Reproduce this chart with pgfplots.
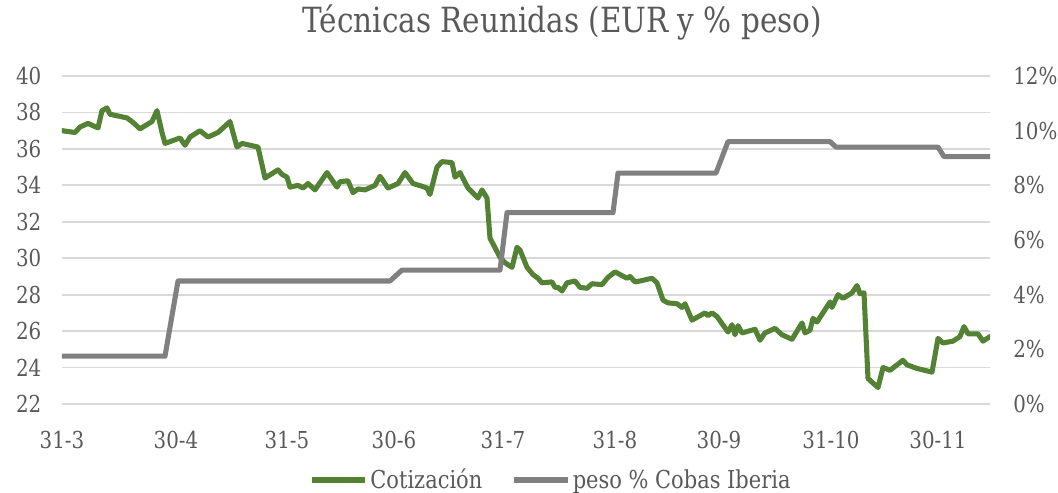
\documentclass[border=0pt]{standalone}
\usepackage{pgfplots}
\pgfplotsset{compat=1.18}
\usepackage{pgfplotstable}
\usepackage{fontspec}
\setmainfont{DejaVu Serif}[FakeStretch=0.85]
\definecolor{cgreen}{HTML}{548235}
\definecolor{cgray}{HTML}{808080}
\definecolor{cgrid}{HTML}{D9D9D9}
\definecolor{ctext}{HTML}{595959}

\pgfplotstableread{
x y
0 37.0
13 36.9
18 37.2
26 37.4
36 37.15
40 38.1
45 38.25
48 37.9
65 37.7
70 37.5
78 37.1
90 37.5
95 38.1
100 36.9
103 36.3
118 36.6
123 36.2
128 36.65
138 37.0
146 36.65
156 36.9
168 37.5
175 36.1
180 36.3
196 36.1
203 34.4
216 34.85
220 34.6
225 34.45
228 33.9
236 34.0
241 33.85
246 34.1
253 33.75
265 34.7
275 33.9
278 34.2
286 34.25
291 33.6
296 33.8
303 33.75
313 34.0
318 34.5
326 33.85
336 34.1
343 34.7
351 34.1
360 33.95
365 33.85
368 33.5
375 35.0
380 35.3
390 35.25
393 34.45
398 34.7
406 33.85
416 33.3
420 33.75
425 33.3
428 31.1
438 30.05
443 29.75
450 29.5
455 30.6
458 30.45
465 29.5
471 29.1
476 28.9
480 28.65
490 28.7
493 28.4
496 28.4
500 28.2
505 28.65
513 28.75
518 28.4
525 28.35
530 28.6
540 28.55
546 28.95
553 29.25
565 28.9
568 29.0
573 28.7
578 28.75
590 28.9
595 28.65
601 27.7
606 27.55
615 27.5
620 27.3
623 27.5
630 26.6
643 27.0
646 26.85
650 27.0
655 26.8
666 25.95
670 26.35
673 25.8
676 26.3
680 25.9
693 26.1
698 25.5
703 25.9
713 26.15
720 25.8
730 25.55
740 26.45
743 25.9
748 26.05
751 26.7
755 26.5
768 27.6
770 27.3
776 28.0
781 27.8
790 28.1
795 28.5
798 28.05
802 28.1
806 23.4
816 22.9
821 24.0
828 23.85
841 24.4
845 24.15
855 23.95
870 23.75
876 25.6
881 25.35
891 25.45
898 25.7
902 26.25
906 25.85
916 25.85
921 25.45
928 25.7
}\cotizacion

\pgfplotstableread{
x y
0 1.75
103 1.75
116 4.5
328 4.5
340 4.9
438 4.9
445 7.0
551 7.0
556 8.45
654 8.45
666 9.6
768 9.6
774 9.4
876 9.4
882 9.05
928 9.05
}\peso

\begin{document}
\begin{tikzpicture}
\useasboundingbox (-46.5pt,-66.75pt) rectangle (747pt,303pt);
\pgfplotsset{
  every axis/.append style={
    scale only axis, width=696pt, height=246pt,
    xmin=0, xmax=928,
    axis line style={draw=none},
    major tick length=0pt,
    ticklabel style={font=\fontsize{17.5}{20}\selectfont, text=ctext},
    /pgf/number format/assume math mode=true,
  }
}
\begin{axis}[
  ymin=22, ymax=40, ytick={22,24,...,40},
  ymajorgrids, grid style={cgrid, line width=1.3pt},
  xtick={0,114,225,332,441,553,657,769,876},
  xticklabels={31-3,30-4,31-5,30-6,31-7,31-8,30-9,31-10,30-11},
  xticklabel shift=17pt,
  yticklabel shift=12pt,
  title={Técnicas Reunidas (EUR y \% peso)},
  title style={at={(0.539,1)}, anchor=center, yshift=34pt,
    font=\fontsize{26}{30}\selectfont, text=ctext},
]
\addplot[cgreen, line width=3.8pt, line join=round, line cap=round] table {\cotizacion};
\end{axis}
\begin{axis}[
  ymin=0, ymax=12, ytick={0,2,...,12},
  yticklabel={\pgfmathprintnumber{\tick}\%},
  axis y line*=right,
  xtick=\empty,
  yticklabel shift=14pt,
  legend style={at={(0.527,0)}, anchor=center, yshift=-57pt,
    legend columns=2, draw=none, fill=none,
    font=\fontsize{18.5}{21}\selectfont, text=ctext,
    /tikz/every even column/.append style={column sep=20pt}},
  legend image code/.code={\draw[#1] (0pt,0pt) -- (40pt,0pt);},
]
\addlegendimage{cgreen, line width=4.2pt}
\addlegendentry{Cotización}
\addplot[cgray, line width=3.8pt, line join=round] table {\peso};
\addlegendentry{peso \% Cobas Iberia}
\end{axis}
\end{tikzpicture}
\end{document}
